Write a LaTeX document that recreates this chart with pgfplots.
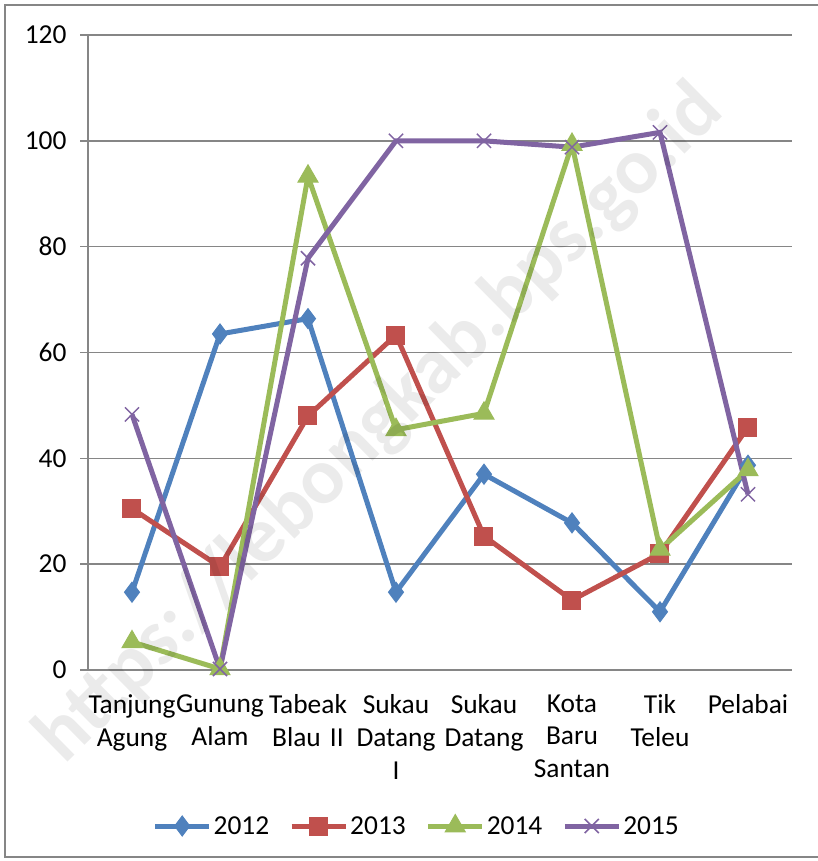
\documentclass[border=0pt]{standalone}
\usepackage{pgfplots}
\pgfplotsset{compat=1.18}
\usepackage{fontspec}
\setmainfont{Carlito}
\definecolor{c12}{RGB}{79,129,189}
\definecolor{c13}{RGB}{192,80,77}
\definecolor{c14}{RGB}{155,187,89}
\definecolor{c15}{RGB}{128,100,162}
\definecolor{gridc}{RGB}{134,134,134}
\begin{document}
\begin{tikzpicture}
\useasboundingbox (0,0) rectangle (818bp,861bp);
\draw[gridc,line width=1.5bp] (818bp,4bp) -- (5bp,4bp) -- (5bp,856bp) -- (818bp,856bp);
\begin{axis}[
  at={(88bp,191bp)}, anchor=south west,
  scale only axis, width=704bp, height=635bp,
  xmin=-0.5, xmax=7.5, ymin=0, ymax=120,
  ytick={0,20,...,120},
  xtick={0,...,7},
  xticklabels={Tanjung\\Agung,Gunung\\Alam,Tabeak\\Blau II,Sukau\\Datang\\I,Sukau\\Datang,Kota\\Baru\\Santan,Tik\\Teleu,Pelabai},
  minor xtick={-0.5,0.5,...,7.5},
  axis lines*=left,
  axis line style={gridc,line width=1.5bp},
  ymajorgrids, grid style={gridc,line width=1.5bp},
  tick align=outside, tick pos=lower,
  major tick length=8bp, minor tick length=8bp,
  every tick/.style={gridc,line width=1.5bp},
  xtick style={draw=none},
  minor x tick style={gridc,line width=1.5bp},
  tick label style={font=\fontsize{27.5}{33}\selectfont},
  xticklabel style={align=center,text width=92bp,yshift=-13bp},
  yticklabel style={xshift=-10bp},
  /pgf/number format/assume math mode=true,
  every axis plot/.append style={line width=5bp},
  legend columns=4,
  legend style={at={(0.467,-0.2457)},anchor=center,draw=none,fill=none,
    font=\fontsize{27.5}{30}\selectfont,
    /tikz/every even column/.append style={column sep=18bp}},
  legend image code/.code={\draw[mark repeat=2,mark phase=2,#1] plot coordinates {(0bp,0bp) (27bp,0bp) (54bp,0bp)};},
]
\addplot[c12,mark=diamond*,mark size=10bp,mark options={line width=1bp}] coordinates {
(0,14.7) (1,63.5) (2,66.4) (3,14.7) (4,37.0) (5,27.8) (6,11.0) (7,38.7)};
\addplot[c13,mark=square*,mark size=9bp,mark options={line width=1bp}] coordinates {
(0,30.5) (1,19.5) (2,48.0) (3,63.3) (4,25.3) (5,13.2) (6,22.0) (7,45.9)};
\addplot[c14,mark=triangle*,mark size=11.5bp,mark options={line width=1bp}] coordinates {
(0,5.3) (1,0.2) (2,93.3) (3,45.4) (4,48.5) (5,99.3) (6,22.8) (7,37.8)};
\addplot[c15,mark=x,mark size=10bp,mark options={line width=1.5bp}] coordinates {
(0,48.3) (1,0.2) (2,77.8) (3,100.0) (4,100.0) (5,98.8) (6,101.6) (7,33.2)};
\legend{2012,2013,2014,2015}
\end{axis}
\node[rotate=44.6,font=\bfseries\fontsize{80}{80}\selectfont,text=black,opacity=0.08] at (380bp,436bp) {https://lebongkab.bps.go.id};
\end{tikzpicture}
\end{document}
